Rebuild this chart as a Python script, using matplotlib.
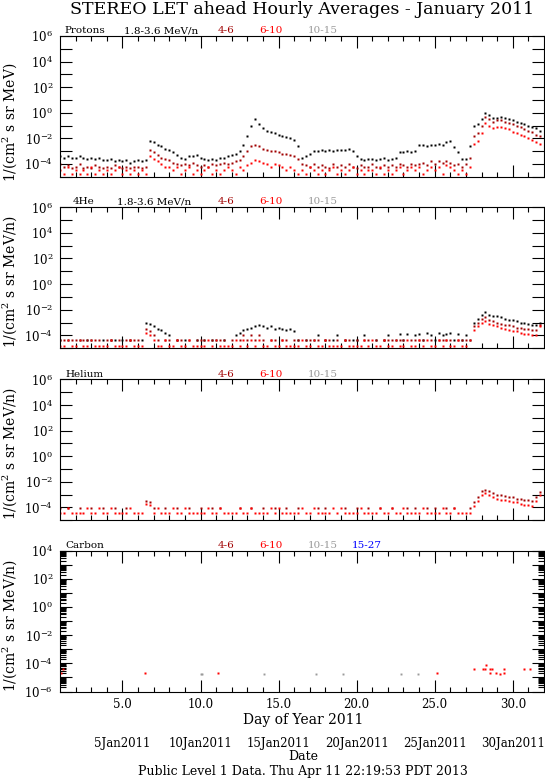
import numpy as np
import matplotlib
matplotlib.use("Agg")
import matplotlib.pyplot as plt
import matplotlib.transforms as mtransforms
from matplotlib.ticker import FixedLocator, NullFormatter, LogLocator

plt.rcParams.update({
    "font.family": "DejaVu Serif",
    "mathtext.fontset": "dejavuserif",
    "axes.linewidth": 0.8,
})

nan = np.nan
W, H = 545, 780

# ----------------------------------------------------------------------
# Data: log10 of the hourly intensities, read every 6 h, day 1.0 .. 31.75
# ----------------------------------------------------------------------
days = 1.0 + 0.25 * np.arange(124)

protons_18 = [
    -3.4, -3.5, -3.4, -3.5,  -3.5, -3.4, -3.5, -3.6,  -3.5, -3.6, -3.5, -3.7,
    -3.7, -3.6, -3.8, -3.7,  -3.8, -3.7, -3.9, -3.8,  -3.7, -3.8, -3.7, -2.2,
    -2.3, -2.5, -2.6, -2.8,  -2.9, -3.1, -3.3, -3.5,  -3.6, -3.4, -3.4, -3.3,
    -3.5, -3.6, -3.7, -3.6,  -3.7, -3.5, -3.5, -3.4,  -3.3, -3.2, -3.0, -2.5,
    -1.8, -1.0, -0.5, -0.9,  -1.2, -1.4, -1.5, -1.6,  -1.7, -1.8, -1.9, -2.0,
    -2.1, -2.6, -3.5, -3.4,  -3.2, -3.0, -3.0, -2.9,  -3.0, -2.9, -3.0, -2.9,
    -2.9, -2.9, -2.8, -3.0,  -3.4, -3.6, -3.7, -3.6,  -3.6, -3.7, -3.6, -3.5,
    -3.7, -3.6, -3.5, -3.1,  -3.1, -3.0, -3.1, -3.0,  -2.5, -2.5, -2.6, -2.5,
    -2.5, -2.4, -2.5, -2.3,  -2.2, -2.7, -3.1, -3.6,  -3.6, -2.6, -1.0, -0.9,
    -0.5,  0.0, -0.2, -0.4,  -0.4, -0.3, -0.4, -0.5,  -0.6, -0.7, -0.8, -0.9,
    -1.0, -1.1, -1.2, -1.4,
]
protons_46 = [
    -4.0, -4.2, -4.1, -4.3,  -4.2, -4.0, -4.3, -4.2,  -4.3, -4.1, -4.2, -4.3,
    -4.2, -4.3, -4.1, -4.2,  -4.3, -4.2, -4.3, -4.2,  -4.2, -4.3, -4.2, -2.9,
    -3.1, -3.3, -3.5, -3.6,  -3.7, -3.9, -4.0, -4.1,  -4.0, -4.1, -3.9, -4.1,
    -4.2, -4.1, -4.2, -4.0,  -4.1, -4.0, -3.9, -4.0,  -3.9, -3.8, -3.7, -3.4,
    -3.0, -2.6, -2.5, -2.6,  -2.8, -2.9, -3.0, -3.0,  -3.1, -3.2, -3.2, -3.3,
    -3.4, -3.6, -4.0, -4.1,  -4.2, -4.0, -4.2, -4.1,  -4.2, -4.3, -4.0, -4.2,
    -4.1, -4.2, -4.0, -4.2,  -4.3, -4.1, -4.2, -4.2,  -4.0, -4.2, -4.3, -4.1,
    -4.2, -4.1, -4.2, -4.0,  -4.1, -4.2, -4.0, -4.1,  -4.0, -3.9, -4.1, -3.8,
    -4.0, -3.8, -3.9, -3.8,  -3.9, -4.1, -4.0, -4.2,  -4.0, -3.5, -1.8, -1.6,
    -1.0, -0.3, -0.5, -0.7,  -0.6, -0.6, -0.7, -0.8,  -0.9, -1.0, -1.1, -1.3,
    -1.4, -1.5, -1.7, -1.8,
]
protons_610 = [
    -4.5, -4.8, -4.2, -4.8,  -4.5, -4.8, -4.5, -4.8,  -4.2, -4.8, -4.5, -4.8,
    -4.5, -4.8, -4.5, -4.2,  -4.8, -4.5, -4.8, -4.5,  -4.8, -4.5, -4.8, -3.4,
    -3.6, -3.8, -4.0, -4.2,  -4.2, -4.5, -4.2, -4.8,  -4.5, -4.2, -4.8, -4.5,
    -4.8, -4.5, -4.2, -4.8,  -4.5, -4.8, -4.5, -4.2,  -4.5, -4.8, -4.2, -4.5,
    -4.1, -3.9, -3.7, -3.8,  -3.9, -4.0, -4.2, -4.0,  -4.1, -4.2, -4.5, -4.2,
    -4.5, -4.8, -4.5, -4.8,  -4.2, -4.5, -4.8, -4.5,  -4.8, -4.5, -4.2, -4.8,
    -4.5, -4.8, -4.5, -4.2,  -4.8, -4.5, -4.8, -4.5,  -4.5, -4.8, -4.2, -4.8,
    -4.5, -4.8, -4.5, -4.2,  -4.8, -4.5, -4.2, -4.5,  -4.2, -4.8, -4.5, -4.2,
    -4.5, -4.2, -4.8, -4.1,  -4.2, -4.5, -4.8, -4.5,  -4.8, -4.2, -2.4, -2.2,
    -1.6, -0.8, -1.0, -1.2,  -1.1, -1.1, -1.2, -1.3,  -1.5, -1.6, -1.7, -1.8,
    -2.0, -2.1, -2.3, -2.4,
]

he4_18 = [
    -4.4,  nan, -4.4,  nan,   nan, -4.4,  nan, -4.4,  -4.4,  nan,  nan, -4.4,
     nan, -4.4, -4.4,  nan,  -4.4,  nan, -4.4,  nan,   nan, -4.4, -3.0, -3.1,
    -3.3, -3.5, -3.6, -3.8,  -4.0,  nan, -4.4,  nan,  -4.4,  nan,  nan, -4.4,
     nan, -4.4,  nan, -4.4,  -4.4,  nan, -4.4,  nan,   nan, -4.0, -3.8, -3.6,
    -3.5, -3.4, -3.3, -3.2,  -3.3, -3.4, -3.3, -3.5,  -3.4, -3.5, -3.6, -3.5,
    -3.7, -4.4,  nan, -4.4,   nan, -4.4, -4.0,  nan,  -4.4,  nan, -4.4, -4.0,
     nan, -4.4,  nan, -4.4,  -4.4,  nan, -4.0,  nan,   nan, -4.4,  nan, -4.4,
    -4.0,  nan, -4.4, -3.9,  -4.4, -3.9,  nan, -4.0,  -3.9, -4.4, -3.8, -4.0,
    -4.4, -3.8, -4.0, -3.9,  -3.8, -4.4, -3.9, -4.4,  -4.0, -4.4, -3.0, -2.7,
    -2.4, -2.2, -2.4, -2.5,  -2.5, -2.6, -2.7, -2.8,  -2.8, -2.9, -3.0, -3.0,
    -3.1, -3.2, -3.2, -3.0,
]
he4_46 = [
    -4.4, -4.4,  nan, -4.4,  -4.4,  nan, -4.4, -4.4,   nan, -4.4, -4.4,  nan,
    -4.4, -4.4,  nan, -4.4,   nan, -4.4, -4.4, -4.4,  -4.4,  nan, -3.5, -3.7,
    -4.0, -4.4,  nan, -4.4,  -4.4,  nan, -4.4, -4.4,   nan, -4.4,  nan, -4.4,
    -4.4, -4.4,  nan, -4.4,   nan, -4.4, -4.4,  nan,  -4.4,  nan, -4.4, -4.0,
    -4.4, -4.0, -4.4, -4.0,  -4.4,  nan, -4.4, -4.4,   nan, -4.4, -4.4,  nan,
    -4.4, -4.4,  nan, -4.4,  -4.4,  nan, -4.4,  nan,  -4.4, -4.4,  nan, -4.4,
     nan, -4.4, -4.4,  nan,  -4.4,  nan, -4.4, -4.4,   nan, -4.4,  nan, -4.4,
    -4.4, -4.4,  nan, -4.4,  -4.4,  nan, -4.4, -4.4,  -4.4, -4.4,  nan, -4.4,
     nan, -4.4, -4.4, -4.4,  -4.4,  nan, -4.4, -4.4,  -4.4,  nan, -3.3, -3.0,
    -2.7, -2.6, -2.8, -2.9,  -3.0, -3.1, -3.2, -3.2,  -3.3, -3.4, -3.4, -3.5,
    -3.5, -3.6, -3.6, -3.2,
]
he4_610 = [
    -4.85, -4.85, -4.4, -4.85,  -4.85, -4.4, -4.85, -4.85,  -4.4, -4.85, -4.85, -4.85,
    -4.85, -4.4, -4.85, -4.85,  -4.85, -4.85, -4.4, -4.85,  -4.85, -4.85, -3.8, -4.0,
    -4.4, -4.85, -4.85, -4.4,   -4.85, -4.85, -4.4, -4.85,  -4.85, -4.4, -4.85, -4.85,
    -4.85, -4.85, -4.4, -4.85,  -4.4, -4.85, -4.85, -4.85,  -4.85, -4.4, -4.85, -4.4,
    -4.85, -4.4, -4.85, -4.4,   -4.85, -4.85, -4.4, -4.85,  -4.85, -4.4, -4.85, -4.85,
    -4.85, -4.85, -4.4, -4.85,  -4.85, -4.4, -4.85, -4.85,  -4.4, -4.85, -4.85, -4.85,
    -4.85, -4.4, -4.85, -4.85,  -4.85, -4.85, -4.4, -4.85,  -4.4, -4.85, -4.85, -4.4,
    -4.85, -4.85, -4.4, -4.85,  -4.85, -4.4, -4.85, -4.85,  -4.4, -4.85, -4.4, -4.85,
    -4.85, -4.4, -4.85, -4.4,   -4.85, -4.85, -4.4, -4.85,  -4.85, -4.4, -3.6, -3.3,
    -3.0, -2.9, -3.1, -3.2,     -3.3, -3.4, -3.5, -3.6,     -3.7, -3.7, -3.8, -3.9,
    -3.9, -4.0, -4.0, -3.3,
]

hel_46 = [
    -4.06,  nan, -4.06,  nan,   nan, -4.06,  nan,  nan,  -4.06,  nan,  nan, -4.06,
     nan,  nan, -4.06,  nan,   nan, -4.06,  nan,  nan,    nan,  nan, -3.5, -3.6,
    -4.06,  nan,  nan, -4.06,   nan,  nan, -4.06,  nan,    nan, -4.06,  nan,  nan,
    -4.06,  nan,  nan, -4.06,   nan, -4.06,  nan,  nan,    nan,  nan, -4.06,  nan,
     nan, -4.06,  nan,  nan,  -4.06,  nan,  nan, -4.06,    nan,  nan, -4.06,  nan,
     nan, -4.06,  nan,  nan,    nan,  nan, -4.06,  nan,  -4.06,  nan,  nan,  nan,
     nan, -4.06,  nan,  nan,  -4.06,  nan,  nan, -4.06,    nan,  nan, -4.06,  nan,
     nan, -4.06,  nan,  nan,    nan, -4.06,  nan, -4.06,    nan,  nan, -4.06,  nan,
    -4.06,  nan,  nan, -4.06,   nan, -4.06,  nan,  nan,    nan, -4.06, -3.6, -3.2,
    -2.7, -2.6, -2.7, -2.9,    -3.0, -3.0, -3.1, -3.2,    -3.2, -3.3, -3.3, -3.4,
    -3.4, -3.5, -3.2, -2.8,
]
hel_610 = [
    -4.45, -4.45, -4.06, -4.45,  -4.45, -4.45, -4.45, -4.06,  -4.45, -4.45, -4.06, -4.45,
    -4.45, -4.06, -4.45, -4.45,  -4.45, -4.45, -4.06, -4.45,  -4.45, -4.45, -3.7, -3.8,
    -4.45, -4.06, -4.45, -4.45,  -4.45, -4.06, -4.45, -4.45,  -4.06, -4.45, -4.45, -4.45,
    -4.45, -4.45, -4.06, -4.45,  -4.45, -4.06, -4.45, -4.45,  -4.45, -4.45, -4.06, -4.45,
    -4.45, -4.06, -4.45, -4.45,  -4.45, -4.45, -4.06, -4.45,  -4.06, -4.45, -4.45, -4.45,
    -4.45, -4.45, -4.06, -4.45,  -4.45, -4.06, -4.45, -4.45,  -4.45, -4.45, -4.06, -4.45,
    -4.06, -4.45, -4.45, -4.45,  -4.45, -4.06, -4.45, -4.45,  -4.45, -4.45, -4.06, -4.45,
    -4.45, -4.06, -4.45, -4.45,  -4.06, -4.45, -4.45, -4.45,  -4.45, -4.06, -4.45, -4.45,
    -4.45, -4.45, -4.06, -4.45,  -4.45, -4.06, -4.45, -4.45,  -4.45, -4.45, -3.9, -3.5,
    -3.0, -2.9, -3.0, -3.2,      -3.3, -3.4, -3.4, -3.5,      -3.6, -3.6, -3.7, -3.8,
    -3.8, -3.9, -3.5, -3.0,
]

carbon_red_t = [1.04, 1.17, 6.45, 11.15, 25.15, 27.5, 28.07, 28.2, 28.29, 28.52,
                28.52, 28.67, 28.95, 29.2, 29.46, 29.46, 30.74, 31.08]
carbon_red_v = [-4.7, -4.41, -4.7, -4.7, -4.7, -4.41, -4.41, -4.41, -4.1, -4.41,
                -4.7, -4.41, -4.7, -4.77, -4.41, -4.7, -4.41, -4.41]
carbon_gray_t = [10.0, 10.12, 14.08, 17.4, 19.1, 22.86, 23.9]
carbon_gray_v = [-4.77, -4.77, -4.77, -4.77, -4.77, -4.77, -4.77]

major_days = [5, 10, 15, 20, 25, 30]
doy_labels = ["5.0", "10.0", "15.0", "20.0", "25.0", "30.0"]
date_labels = ["5Jan2011", "10Jan2011", "15Jan2011", "20Jan2011",
               "25Jan2011", "30Jan2011"]

C_BLK, C_DRED, C_RED, C_GRAY, C_BLUE = "black", "#a00000", "#ff0000", "#9a9a9a", "#0000ff"

# ----------------------------------------------------------------------
fig = plt.figure(figsize=(W / 100, H / 100), dpi=100)

def fx(px):
    return px / W

def fy(py):
    return 1 - py / H

panel_tops = [36.0, 207.3, 379.5, 550.7]
panel_h = 140.8
x_left, x_right = 60.0, 544.0

panels = [
    dict(name="Protons", name_x=64, band_x=123.6, unit="MeV",
         ylim=(-5, 6), series=[(protons_18, C_BLK), (protons_46, C_DRED), (protons_610, C_RED)],
         bands=[("4-6", C_DRED), ("6-10", C_RED), ("10-15", C_GRAY)]),
    dict(name="4He", name_x=73, band_x=117.3, unit="MeV/n",
         ylim=(-5, 6), series=[(he4_18, C_BLK), (he4_46, C_DRED), (he4_610, C_RED)],
         bands=[("4-6", C_DRED), ("6-10", C_RED), ("10-15", C_GRAY)]),
    dict(name="Helium", name_x=65, band_x=None, unit="MeV/n",
         ylim=(-5, 6), series=[(hel_46, C_DRED), (hel_610, C_RED)],
         bands=[("4-6", C_DRED), ("6-10", C_RED), ("10-15", C_GRAY)]),
    dict(name="Carbon", name_x=65, band_x=None, unit="MeV/n",
         ylim=(-6, 4), series=[],
         bands=[("4-6", C_DRED), ("6-10", C_RED), ("10-15", C_GRAY), ("15-27", C_BLUE)]),
]
band_pos = [217.6, 259.4, 308.0, 352.0]

axes = []
for i, p in enumerate(panels):
    top = panel_tops[i]
    ax = fig.add_axes([fx(x_left), fy(top + panel_h), fx(x_right - x_left), panel_h / H])
    axes.append(ax)
    ax.set_yscale("log")
    lo, hi = p["ylim"]
    ax.set_ylim(10.0 ** lo, 10.0 ** hi)
    ax.set_xlim(1, 32)

    for vals, col in p["series"]:
        ax.plot(days, 10.0 ** np.array(vals, dtype=float), ls="none", marker="s",
                ms=2.0, mec="none", mfc=col)

    # decade ticks, labels on even decades
    decs = np.arange(lo, hi + 1)
    ax.yaxis.set_major_locator(FixedLocator(10.0 ** decs))
    ax.set_yticklabels([r"$10^{%d}$" % d if d % 2 == 0 else "" for d in decs])
    if i == 3:
        ax.yaxis.set_minor_locator(LogLocator(base=10, subs=np.arange(2, 10), numticks=40))
        ax.tick_params(axis="y", which="minor", length=4.5, width=0.8,
                       direction="in", left=True, right=True)
    else:
        ax.yaxis.set_minor_locator(FixedLocator([]))
    ax.yaxis.set_minor_formatter(NullFormatter())
    ax.tick_params(axis="y", which="major", length=8.5, width=0.8, direction="in",
                   left=True, right=True, labelsize=8.5, pad=5)

    ax.set_xticks(major_days)
    ax.set_xticks(np.arange(2, 32), minor=True)
    ax.tick_params(axis="x", which="major", length=8.5, width=0.8, direction="in",
                   top=True, bottom=True)
    ax.tick_params(axis="x", which="minor", length=3.5, width=0.8, direction="in",
                   top=True, bottom=True)
    if i == 3:
        ax.set_xticklabels(doy_labels)
        ax.tick_params(axis="x", labelsize=8.5, pad=5)
    else:
        ax.set_xticklabels([])

    # header line above the panel
    ty = fy(top - 1)
    fig.text(fx(p["name_x"]), ty, p["name"], fontsize=7.5, color=C_BLK, va="bottom", ha="left")
    if p["band_x"] is not None:
        fig.text(fx(p["band_x"]), ty, "1.8-3.6 MeV/n", fontsize=7.5, color=C_BLK,
                 va="bottom", ha="left")
    for (lab, col), bx in zip(p["bands"], band_pos):
        fig.text(fx(bx), ty, lab, fontsize=7.5, color=col, va="bottom", ha="left")

    # y label
    yc = top + panel_h / 2 + (16 if i == 0 else 4)
    fig.text(fx(10), fy(yc), r"1/(cm$^{2}$ s sr %s)" % p["unit"], rotation=90,
             ha="center", va="center", fontsize=10)

# carbon points
axc = axes[3]
axc.plot(carbon_gray_t, 10.0 ** np.array(carbon_gray_v), ls="none", marker="s",
         ms=1.4, mec="none", mfc=C_GRAY, clip_on=False)
axc.plot(carbon_red_t, 10.0 ** np.array(carbon_red_v), ls="none", marker="s",
         ms=2.0, mec="none", mfc=C_RED, clip_on=False)

# date labels below the day-of-year axis
trans = mtransforms.blended_transform_factory(axc.transData, fig.transFigure)
for d, lab in zip(major_days, date_labels):
    axc.text(d, fy(744), lab, transform=trans, ha="center", va="center", fontsize=8.5)

fig.text(fx(303), fy(720), "Day of Year 2011", ha="center", va="center", fontsize=10)
fig.text(fx(303), fy(757), "Date", ha="center", va="center", fontsize=9)
fig.text(fx(303), fy(771), "Public Level 1 Data. Thu Apr 11 22:19:53 PDT 2013",
         ha="center", va="center", fontsize=9)
fig.text(fx(302), fy(10), "STEREO LET ahead Hourly Averages - January 2011",
         ha="center", va="center", fontsize=12.5)

fig.savefig("out.png", dpi=100)
